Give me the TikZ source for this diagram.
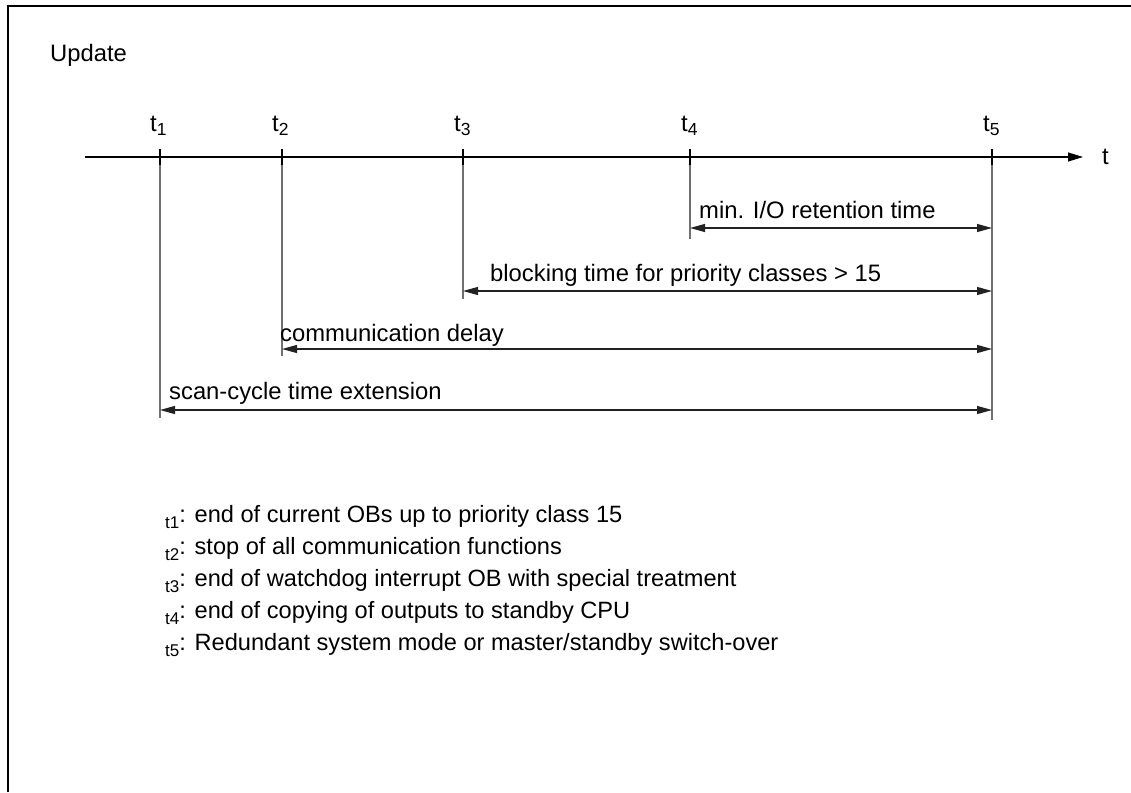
\documentclass[tikz,border=0pt]{standalone}
\usepackage{fontspec}
\setmainfont{Liberation Sans}
\usetikzlibrary{arrows.meta,calc}
\definecolor{guidegray}{HTML}{707070}
\definecolor{dimgray}{HTML}{222222}
\begin{document}
\begin{tikzpicture}[x=1pt,y=-1pt,
  lbl/.style={font=\fontsize{23.8}{28}\selectfont, inner sep=0pt, anchor=base west},
  leg/.style={font=\fontsize{23.6}{28}\selectfont, inner sep=0pt, anchor=base west},
  guide/.style={draw=guidegray, line width=1.1pt},
  tip/.tip={Triangle[length=15pt,width=8pt]},
  dimline/.style={draw=dimgray, line width=1.1pt, tip-tip},
  tickmark/.style={line width=2.4pt}]
\useasboundingbox (0,0) rectangle (1131,792);
% frame
\draw[line width=1.3pt] (8,792) -- (8,6) -- (1131,6);
\node[lbl] (title) at (50,62) {Update};
% time axis
\coordinate (ax0) at (85,157);
\coordinate (axE) at (1083,157);
\draw[line width=1.1pt, -{Triangle[length=15pt,width=9pt]}] (ax0) -- (axE);
\node[lbl] (tlab) at (1102,164) {t};
% tick points
\coordinate (a1) at (160,157);
\coordinate (a2) at (282,157);
\coordinate (a3) at (463,157);
\coordinate (a4) at (690,157);
\coordinate (a5) at (992,157);
% guide ends
\coordinate (b1) at (160,418);
\coordinate (b2) at (282,356);
\coordinate (b3) at (463,299);
\coordinate (b4) at (690,239);
\coordinate (b5) at (992,420);
\foreach \i in {1,...,5}{
  \draw[guide] (a\i) -- (b\i);
  \draw[tickmark] ($(a\i)+(0,-8)$) -- ($(a\i)+(0,8)$);
}
% tick labels
\foreach \i/\x in {1/150,2/272,3/454,4/681,5/983}{
  \node[lbl] (tl\i) at (\x,131) {t\raisebox{-4.5pt}{\fontsize{17.5}{20}\selectfont\i}};
}
% dimension arrows
\coordinate (d4l) at (690,228);  \coordinate (d4r) at (992,228);
\coordinate (d3l) at (463,291);  \coordinate (d3r) at (992,291);
\coordinate (d2l) at (282,349);  \coordinate (d2r) at (992,349);
\coordinate (d1l) at (160,410);  \coordinate (d1r) at (992,410);
\draw[dimline] (d4l) -- (d4r);
\draw[dimline] (d3l) -- (d3r);
\draw[dimline] (d2l) -- (d2r);
\draw[dimline] (d1l) -- (d1r);
\node[lbl] (l4) at (699,218) {min. I/O retention time};
\node[lbl] (l3) at (490,281) {blocking time for priority classes > 15};
\node[lbl] (l2) at (280,341) {communication delay};
\node[lbl] (l1) at (169,399) {scan-cycle time extension};
% legend
\foreach \i/\y/\txt in {1/522/{end of current OBs up to priority class 15},
                        2/554/{stop of all communication functions},
                        3/586/{end of watchdog interrupt OB with special treatment},
                        4/618/{end of copying of outputs to standby CPU},
                        5/650/{Redundant system mode or master/standby switch-over}}{
  \node[leg] (lg\i) at (165,\y) {\raisebox{-6pt}{\fontsize{17}{20}\selectfont t\i}: \txt};
}
\end{tikzpicture}
\end{document}
